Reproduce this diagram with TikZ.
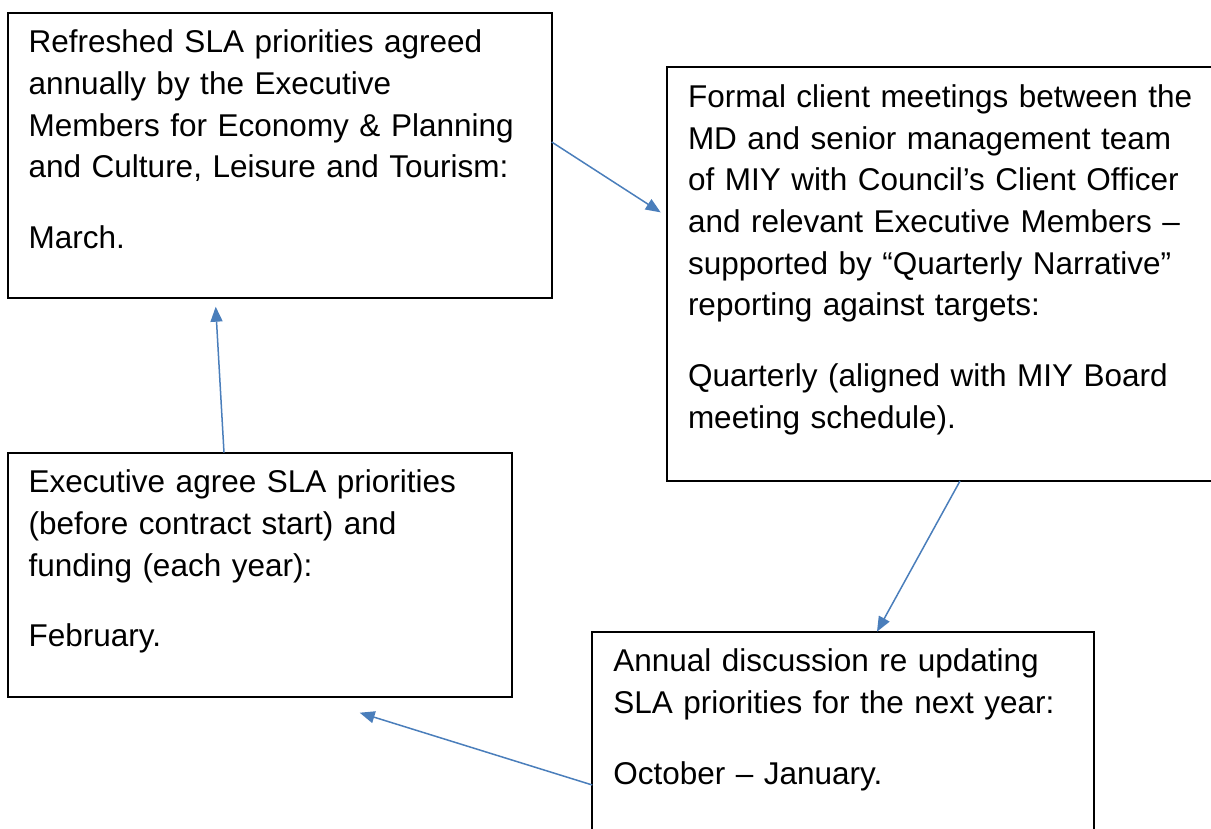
\documentclass[tikz,border=0pt]{standalone}
\usepackage{fontspec}
\setmainfont{Liberation Sans}
\usetikzlibrary{arrows.meta}
\definecolor{linkblue}{HTML}{4A7EBB}

\begin{document}
\begin{tikzpicture}[x=1pt, y=-1pt,
  stage/.style={draw, line width=2pt, anchor=north west, align=left,
    inner xsep=21pt, inner ysep=0pt, outer sep=0pt, text height=40pt,
    font=\fontsize{31.5}{41.7}\selectfont},
  link/.style={draw=linkblue, line width=1.5pt,
    -{Triangle[length=15pt, width=12pt]}}]
  \path[use as bounding box, clip] (0,0) rectangle (1211,828);

  \node[stage, text width=502pt, text depth=245.6pt] (refresh) at (7.7,12.7)
    {Refreshed SLA priorities agreed\\
     annually by the Executive\\
     Members for Economy \& Planning\\
     and Culture, Leisure and Tourism:\\[29pt]
     March.};
  \node[stage, text width=520pt, text depth=373.7pt] (meetings) at (667,67.3)
    {Formal client meetings between the\\
     MD and senior management team\\
     of MIY with Council's Client Officer\\
     and relevant Executive Members --\\
     supported by ``Quarterly Narrative''\\
     reporting against targets:\\[29pt]
     Quarterly (aligned with MIY Board\\
     meeting schedule).};
  \node[stage, text width=460pt, text depth=190pt] (review) at (592.3,631.7)
    {Annual discussion re updating\\
     SLA priorities for the next year:\\[29pt]
     October -- January.};
  \node[stage, text width=462pt, text depth=204pt] (agree) at (7.7,452.7)
    {Executive agree SLA priorities\\
     (before contract start) and\\
     funding (each year):\\[29pt]
     February.};

  % yearly cycle
  \draw[link, shorten >=7.5pt] ([yshift=13.5pt]refresh.east)
    -- ([yshift=57.7pt]meetings.west);
  \draw[link] ([xshift=293pt]meetings.south west)
    -- ([xshift=-217.3pt]review.north east);
  \draw[link] ([yshift=-153.3pt]review.north west)
    -- ([xshift=100pt,yshift=-16pt]agree.south);
  \draw[link] ([xshift=-35.7pt]agree.north)
    -- ([xshift=-64pt,yshift=-8.4pt]refresh.south);
\end{tikzpicture}
\end{document}
